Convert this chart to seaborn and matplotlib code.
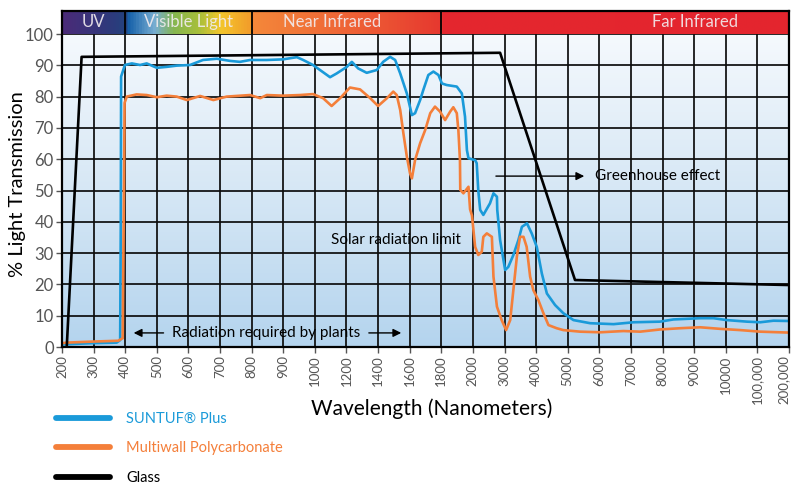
import numpy as np
import pandas as pd
import matplotlib
matplotlib.use("Agg")
import matplotlib.pyplot as plt
import matplotlib.transforms as mtransforms
from matplotlib.colors import LinearSegmentedColormap
from matplotlib.lines import Line2D
import seaborn as sns

# axis ticks (the wavelength axis is evenly spaced by tick, not linear)
tick_wl = [200, 300, 400, 500, 600, 700, 800, 900, 1000, 1200, 1400, 1600, 1800,
           2000, 3000, 4000, 5000, 6000, 7000, 8000, 9000, 10000, 100000, 200000]
tick_labels = ["200", "300", "400", "500", "600", "700", "800", "900", "1000",
               "1200", "1400", "1600", "1800", "2000", "3000", "4000", "5000",
               "6000", "7000", "8000", "9000", "10000", "100,000", "200,000"]

suntuf_wl = [200, 289, 373, 384, 386, 387, 399, 421, 447, 468, 500, 531, 563, 605,
             646, 690, 732, 763, 795, 848, 899, 943, 963, 994, 1096, 1138, 1202,
             1234, 1274, 1328, 1392, 1432, 1476, 1508, 1540, 1582, 1614, 1634, 1666,
             1686, 1718, 1750, 1782, 1804, 1834, 1898, 1930, 1950, 1962, 1972, 2070,
             2120, 2170, 2230, 2330, 2540, 2650, 2760, 2770, 2860, 3020, 3120, 3280,
             3440, 3550, 3710, 3860, 4020, 4180, 4340, 4600, 4860, 5180, 5710, 6450,
             7080, 7920, 8340, 9190, 9610, 12700, 70300, 109000, 151000, 200000]
suntuf_val = [0.8, 1.2, 1.4, 2.2, 40, 86.4, 90.1, 90.6, 90.1, 90.6, 89.2, 89.5, 89.9,
              90.1, 91.7, 92.1, 91.4, 91.1, 91.7, 91.7, 91.9, 92.6, 91.7, 90.1, 86.2,
              87.4, 89.5, 91.1, 89.0, 87.6, 88.5, 91.1, 92.7, 91.7, 87.4, 81.0, 74.1,
              74.7, 78.9, 82.1, 86.9, 88.0, 86.9, 84.2, 83.7, 83.2, 81.0, 73.6, 62.9,
              60.3, 59.7, 58.7, 50.0, 43.8, 42.2, 45.9, 49.1, 48.0, 43.8, 34.2, 24.6,
              25.6, 29.4, 34.2, 38.4, 39.5, 36.3, 32.0, 23.5, 17.1, 13.4, 10.8, 8.6,
              7.6, 7.3, 7.9, 8.1, 8.8, 9.2, 9.2, 8.6, 8.1, 7.9, 8.4, 8.3]

multiwall_wl = [200, 215, 289, 378, 392, 396, 398, 405, 436, 468, 500, 531, 563, 595,
                637, 679, 721, 795, 827, 848, 899, 953, 994, 1052, 1106, 1160, 1222,
                1286, 1350, 1400, 1456, 1496, 1518, 1540, 1560, 1582, 1602, 1614, 1634,
                1666, 1698, 1730, 1760, 1792, 1824, 1856, 1876, 1898, 1908, 1918, 1920,
                1940, 1972, 1982, 1994, 2070, 2170, 2280, 2330, 2440, 2600, 2650, 2760,
                2910, 3050, 3180, 3280, 3390, 3490, 3600, 3700, 3810, 3910, 4070, 4230,
                4390, 4650, 4860, 5390, 6030, 6760, 7290, 7920, 8560, 9190, 9820, 51400,
                109000, 200000]
multiwall_val = [1.2, 1.4, 1.7, 2.0, 2.8, 50, 78.0, 80.0, 80.7, 80.5, 79.8, 80.3, 80.0,
                 78.9, 80.2, 78.9, 80.0, 80.5, 79.5, 80.5, 80.3, 80.5, 80.8, 79.5, 77.0,
                 79.5, 82.9, 82.3, 79.5, 77.0, 79.5, 81.6, 80.5, 75.7, 68.3, 60.8, 55.5,
                 53.9, 59.7, 65.1, 69.3, 74.7, 76.8, 75.2, 72.5, 75.2, 76.6, 74.7, 69.3,
                 59.7, 50.2, 49.1, 51.2, 44.0, 42.0, 32.0, 29.4, 30.4, 35.2, 36.3, 35.2,
                 22.5, 12.9, 8.6, 5.4, 8.6, 18.2, 28.8, 35.2, 35.2, 32.0, 22.5, 18.2,
                 15.0, 10.8, 7.0, 6.0, 5.4, 4.9, 4.7, 5.1, 4.9, 5.6, 6.0, 6.3, 5.8, 5.4,
                 4.9, 4.6]

glass_wl = [215, 262, 2860, 5230, 200000]
glass_val = [0, 92.7, 94.0, 21.4, 19.8]

series_names = ["SUNTUF\u00ae Plus", "Multiwall Polycarbonate", "Glass"]
series_colors = ["#1a9ad9", "#f47f3a", "#000000"]

tick_pos = np.arange(len(tick_wl))
frames = []
for name, wl, val in zip(series_names,
                         [suntuf_wl, multiwall_wl, glass_wl],
                         [suntuf_val, multiwall_val, glass_val]):
    frames.append(pd.DataFrame({"pos": np.interp(wl, tick_wl, tick_pos),
                                "value": val, "material": name}))
df = pd.concat(frames, ignore_index=True)

sns.set_theme(style="white")
plt.rcParams["font.family"] = ["Lato", "DejaVu Sans"]

fig = plt.figure(figsize=(7.93, 4.86), dpi=100)
ax = fig.add_axes([62 / 793, 139 / 486, 727 / 793, 336 / 486])

xmax = len(tick_wl) - 1
ytop = 107.35

# background gradient
bg = LinearSegmentedColormap.from_list("bg", ["#b4d4ee", "#d6e7f5", "#f5f9fd"])
ax.imshow(np.linspace(0, 1, 256).reshape(-1, 1), extent=(0, xmax, 0, 100),
          cmap=bg, aspect="auto", origin="lower", zorder=0.1)

# spectrum header band
stops = [(0.0, "#4a2b78"), (1.6, "#2c3b7c"), (1.99, "#23437f"),
         (2.0, "#0f5ba6"), (2.9, "#78aed2"), (3.5, "#86b650"), (4.3, "#a8bf3a"),
         (5.0, "#f4c62c"), (5.99, "#f29a2a"),
         (6.0, "#f4883a"), (9.0, "#ef6436"), (12.0, "#e6382f"),
         (12.01, "#e4272f"), (23.0, "#e4252e")]
band = LinearSegmentedColormap.from_list("band", [(p / xmax, c) for p, c in stops])
ax.imshow(np.linspace(0, 1, 1200).reshape(1, -1), extent=(0, xmax, 100, ytop),
          cmap=band, aspect="auto", zorder=2)
ax.vlines([2, 6, 12], 100, ytop, color="black", lw=1.3, zorder=2.5)
for label, x in [("UV", 0.98), ("Visible Light", 3.99),
                 ("Near Infrared", 8.54), ("Far Infrared", 20.03)]:
    ax.text(x, 103.7, label, ha="center", va="center", fontsize=12, color="#f2ecef",
            alpha=0.9, zorder=3)

sns.lineplot(data=df, x="pos", y="value", hue="material", palette=series_colors,
             hue_order=series_names, sort=False, estimator=None, lw=1.9, ax=ax,
             legend=False, zorder=4)

ax.set_xlim(0, xmax)
ax.set_ylim(0, ytop)
ax.set_xticks(tick_pos)
ax.set_xticklabels(tick_labels, rotation=90, fontsize=9.5, color="#555555")
ax.set_yticks(range(0, 101, 10))
ax.set_yticklabels([str(v) for v in range(0, 101, 10)], fontsize=12, color="#555555")
ax.set_axisbelow(True)
ax.grid(True, color="#0d0d0d", lw=1.25)
ax.tick_params(axis="both", length=4, width=1, color="#555555", pad=2, bottom=True,
               left=True)
for s in ax.spines.values():
    s.set_color("black")
    s.set_linewidth(1.6)
    s.set_zorder(5)

# keep the last tick label inside the canvas
last = ax.get_xticklabels()[-1]
last.set_transform(last.get_transform() +
                   mtransforms.ScaledTranslation(-4 / 72, 0, fig.dpi_scale_trans))

ax.set_xlabel("Wavelength (Nanometers)", fontsize=15, color="black")
ax.xaxis.set_label_coords(0.509, -0.152)
ax.set_ylabel("% Light Transmission", fontsize=14.5, color="black")
ax.yaxis.set_label_coords(-0.05, 0.485)

# annotations
arrow = dict(arrowstyle="-|>", color="black", lw=1.0, mutation_scale=12)
ax.annotate("", xy=(16.61, 54.6), xytext=(13.64, 54.6), arrowprops=arrow, zorder=4)
ax.text(16.87, 54.6, "Greenhouse effect", ha="left", va="center", fontsize=11,
        color="black", zorder=4)
ax.text(10.57, 34.2, "Solar radiation limit", ha="center", va="center", fontsize=11,
        color="black", zorder=4)
ax.annotate("", xy=(2.18, 4.5), xytext=(3.3, 4.5), arrowprops=arrow, zorder=4)
ax.annotate("", xy=(10.82, 4.5), xytext=(9.62, 4.5), arrowprops=arrow, zorder=4)
ax.text(6.47, 4.5, "Radiation required by plants", ha="center", va="center",
        fontsize=11, color="black", zorder=4)

handles = [Line2D([], [], color=c, lw=4.2) for c in series_colors]
leg = fig.legend(handles, series_names, loc="upper left",
                 bbox_to_anchor=(56 / 793, 1 - 412 / 486), frameon=False,
                 fontsize=10.5, handlelength=3.7, handletextpad=1.1,
                 labelspacing=1.05, borderpad=0, borderaxespad=0)
for txt, c in zip(leg.get_texts(), series_colors):
    txt.set_color(c)

fig.savefig("out.png", dpi=100)
